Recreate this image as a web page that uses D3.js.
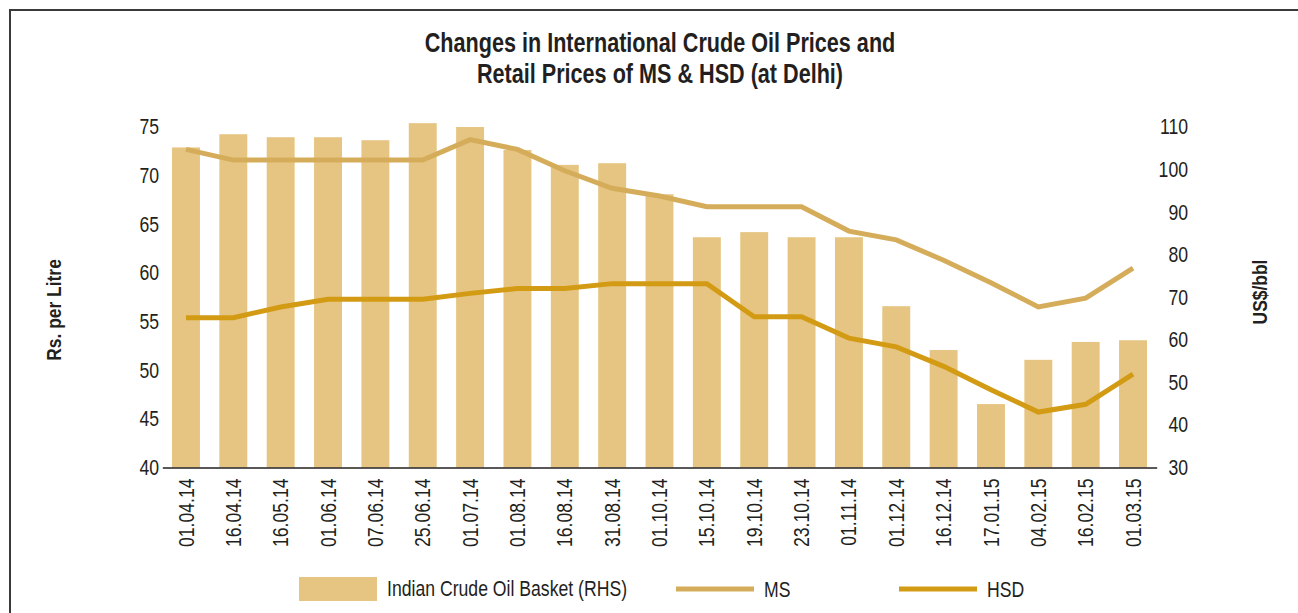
<!DOCTYPE html>
<html>
<head>
<meta charset="utf-8">
<script src="https://cdn.jsdelivr.net/npm/d3@7"></script>
<style>
  html, body { margin: 0; padding: 0; background: #fff; }
  svg { display: block; }
  text { font-family: "Liberation Sans", Arial, sans-serif; fill: #231f20; }
</style>
</head>
<body>
<svg id="chart" width="1298" height="613"></svg>
<script>
const dates = ["01.04.14","16.04.14","16.05.14","01.06.14","07.06.14","25.06.14","01.07.14","01.08.14","16.08.14","31.08.14","01.10.14","15.10.14","19.10.14","23.10.14","01.11.14","01.12.14","16.12.14","17.01.15","04.02.15","16.02.15","01.03.15"];
const crudeBasket = [105.2,108.3,107.6,107.6,106.9,110.9,110.0,104.6,101.1,101.5,94.2,84.1,85.3,84.1,84.1,67.9,57.6,44.9,55.3,59.5,59.9];
const msPrice = [72.7,71.6,71.6,71.6,71.6,71.6,73.7,72.7,70.5,68.7,67.9,66.8,66.8,66.8,64.3,63.4,61.3,59.0,56.5,57.4,60.5];
const hsdPrice = [55.4,55.4,56.5,57.3,57.3,57.3,57.9,58.4,58.4,58.9,58.9,58.9,55.5,55.5,53.3,52.4,50.4,48.0,45.7,46.5,49.6];
const leftTicks = [40,45,50,55,60,65,70,75];
const rightTicks = [30,40,50,60,70,80,90,100,110];
const titleLines = ["Changes in International Crude Oil Prices and","Retail Prices of MS & HSD (at Delhi)"];
const seriesNames = ["Indian Crude Oil Basket (RHS)","MS","HSD"];

const colBar = "#e6c582", colMS = "#d5ad5a", colHSD = "#d39b14";
const SX = 0.82;   // condensed look
const svg = d3.select("#chart");

// frame
svg.append("path").attr("d","M10,613 L10,10 L1298,10").attr("fill","none").attr("stroke","#3a3a3a").attr("stroke-width",2);

const x = d3.scaleBand().domain(dates).range([162.3,1156.7]).paddingInner(0.41).paddingOuter(0.205);
const yL = d3.scaleLinear().domain([40,75]).range([467.5,127]);
const yR = d3.scaleLinear().domain([30,110]).range([467.5,127]);
const cx = d => x(d) + x.bandwidth()/2;

// title (condensed bold, fitted to the reference line width)
const tg = svg.append("g");
const tTexts = tg.selectAll("text").data(titleLines).join("text")
  .attr("text-anchor","middle").style("font-weight","bold").style("font-size","27px")
  .text(d=>d);
const w0 = tTexts.node().getComputedTextLength();
const tsx = 471 / w0;
tTexts.attr("transform",(d,i)=>`translate(660,${52+i*31}) scale(${tsx},1)`);

// bars
svg.append("g").selectAll("rect").data(dates).join("rect")
  .attr("x",d=>x(d)).attr("width",x.bandwidth())
  .attr("y",(d,i)=>yR(crudeBasket[i])).attr("height",(d,i)=>yR(30)-yR(crudeBasket[i]))
  .attr("fill",colBar);

// lines
const line = d3.line().x(d=>cx(d[0])).y(d=>yL(d[1]));
svg.append("path").datum(dates.map((d,i)=>[d,msPrice[i]])).attr("d",line)
  .attr("fill","none").attr("stroke",colMS).attr("stroke-width",5);
svg.append("path").datum(dates.map((d,i)=>[d,hsdPrice[i]])).attr("d",line)
  .attr("fill","none").attr("stroke",colHSD).attr("stroke-width",5);

// x axis
const gx = svg.append("g").attr("transform","translate(0,467.5)")
  .call(d3.axisBottom(x).tickSize(0).tickPadding(0));
gx.select(".domain").attr("stroke","#231f20").attr("stroke-width",1.5);
gx.selectAll(".tick text")
  .attr("transform",`translate(0,11) rotate(-90) scale(${SX},1)`)
  .attr("text-anchor","end").attr("dy","0.35em").attr("y",0).attr("x",0)
  .style("font-size","21.5px").style("font-family",null).attr("fill","#231f20");

// left axis
const gl = svg.append("g").attr("transform","translate(159,0)")
  .call(d3.axisLeft(yL).tickValues(leftTicks).tickSize(0).tickPadding(0));
gl.select(".domain").remove();
gl.selectAll(".tick text").attr("transform",`scale(${SX},1)`)
  .style("font-size","21.5px").style("font-family",null).attr("fill","#231f20");

// right axis
const gr = svg.append("g").attr("transform","translate(1188,0)")
  .call(d3.axisLeft(yR).tickValues(rightTicks).tickSize(0).tickPadding(0));
gr.select(".domain").remove();
gr.selectAll(".tick text").attr("transform",`scale(${SX},1)`)
  .style("font-size","21.5px").style("font-family",null).attr("fill","#231f20");

// axis titles
svg.append("text").attr("transform",`translate(61,310) rotate(-90) scale(0.83,1)`).attr("text-anchor","middle")
  .style("font-weight","bold").style("font-size","21px").text("Rs. per Litre");
svg.append("text").attr("transform",`translate(1267,292) rotate(-90) scale(0.83,1)`).attr("text-anchor","middle")
  .style("font-weight","bold").style("font-size","21px").text("US$/bbl");

// legend
const lg = svg.append("g");
lg.append("rect").attr("x",299).attr("y",577).attr("width",78).attr("height",24).attr("fill",colBar);
lg.append("text").attr("transform",`translate(387,596) scale(${SX},1)`).style("font-size","21.5px").text(seriesNames[0]);
lg.append("line").attr("x1",676).attr("x2",754).attr("y1",589).attr("y2",589).attr("stroke",colMS).attr("stroke-width",5);
lg.append("text").attr("transform",`translate(764,597) scale(${SX},1)`).style("font-size","21.5px").text(seriesNames[1]);
lg.append("line").attr("x1",899).attr("x2",977).attr("y1",589).attr("y2",589).attr("stroke",colHSD).attr("stroke-width",5);
lg.append("text").attr("transform",`translate(987,597) scale(${SX},1)`).style("font-size","21.5px").text(seriesNames[2]);
</script>
</body>
</html>
